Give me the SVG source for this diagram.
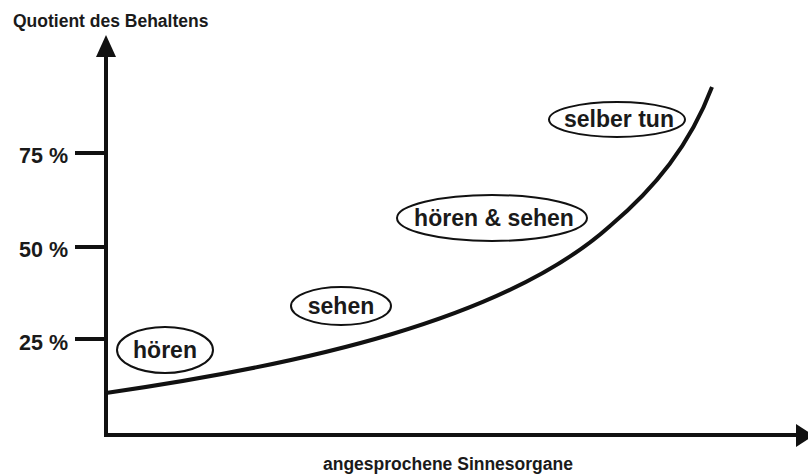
<svg xmlns="http://www.w3.org/2000/svg" width="808" height="475" viewBox="0 0 808 475">
<style>
text{font-family:"Liberation Sans",Arial,sans-serif;font-weight:bold;fill:#1a1a1a}
.ax{stroke:#111;stroke-width:4;fill:none}
.lbl{font-size:23px;text-anchor:middle}
.tick{font-size:21.5px}
.ttl{font-size:17.5px}
ellipse{fill:#fff;stroke:#111;stroke-width:2}
</style>
<rect width="808" height="475" fill="#fff"/>
<g id="axes">
<line class="ax" x1="106" y1="54" x2="106" y2="437"/>
<line class="ax" x1="104" y1="435" x2="798" y2="435"/>
<polygon points="106,35 96,57 116,57" fill="#111"/>
<polygon points="796,424 814,435.5 796,447" fill="#111"/>
<line class="ax" x1="75" y1="153" x2="106" y2="153"/>
<line class="ax" x1="75" y1="247" x2="106" y2="247"/>
<line class="ax" x1="75" y1="339" x2="106" y2="339"/>
<text class="tick" x="19" y="163">75 %</text>
<text class="tick" x="19" y="257">50 %</text>
<text class="tick" x="19" y="350">25 %</text>
<text class="ttl" x="13" y="27">Quotient des Behaltens</text>
<text class="ttl" x="323" y="470">angesprochene Sinnesorgane</text>
</g>
<g id="connectors">
<path class="ax" d="M106,393 C300,365 505,320 610,226 C655,188 690,145 712,87"/>
</g>
<g id="hoeren"><ellipse cx="165" cy="350" rx="48" ry="23"/><text class="lbl" x="165" y="358">hören</text></g>
<g id="sehen"><ellipse cx="341" cy="306" rx="50" ry="19"/><text class="lbl" x="341" y="314">sehen</text></g>
<g id="hoeren-sehen"><ellipse cx="492" cy="218" rx="95" ry="23"/><text class="lbl" x="494" y="226">hören &amp; sehen</text></g>
<g id="selber-tun"><ellipse cx="617" cy="119.5" rx="68" ry="17.5"/><text class="lbl" x="619" y="127">selber tun</text></g>
</svg>
